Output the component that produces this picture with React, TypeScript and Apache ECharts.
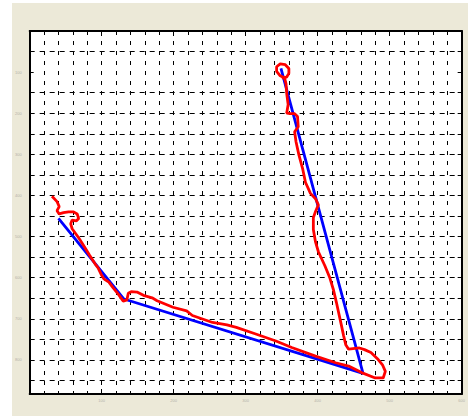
import React, { useEffect, useRef } from "react";
import * as echarts from "echarts";

const X_MIN = 0;
const X_MAX = 600;
const Y_MIN = 0;
const Y_MAX = 883;
const xTickLabels = [100, 200, 300, 400, 500, 600];
const yTickLabels = [100, 200, 300, 400, 500, 600, 700, 800];

const blueX = [40, 131, 463, 349];
const blueY = [456, 652, 833, 91];

const redX = [
  31, 38, 41, 38, 41, 47, 54, 61, 66, 68,
  65, 59, 57, 59, 68, 76, 83, 91, 95, 99,
  103, 110, 116, 123, 130, 135, 137, 141, 149, 158,
  170, 177, 199, 218, 226, 254, 274, 287, 314, 342,
  364, 397, 425, 443, 461, 480, 491, 494, 490, 483,
  474, 465, 458, 443, 439, 436, 433, 429, 426, 422,
  417, 410, 401, 397, 394, 394, 397, 401, 397, 390,
  383, 379, 374, 370, 368, 373, 372, 368, 362, 357,
  359, 357, 356, 354, 348, 343, 343, 348, 355, 360,
  360, 357, 350,
];
const redY = [
  402, 415, 427, 437, 445, 442, 440, 440, 445, 456,
  462, 460, 469, 481, 503, 525, 545, 567, 576, 591,
  603, 611, 625, 640, 657, 654, 638, 634, 635, 643,
  649, 656, 672, 681, 692, 709, 715, 721, 737, 754,
  770, 791, 807, 815, 831, 844, 844, 828, 812, 797,
  782, 775, 771, 774, 763, 741, 716, 684, 660, 630,
  601, 571, 537, 513, 483, 454, 439, 423, 408, 395,
  368, 334, 302, 270, 245, 233, 208, 201, 201, 200,
  179, 152, 128, 114, 109, 98, 87, 80, 82, 91,
  103, 112, 114,
];

const zip = (xs: number[], ys: number[]) => xs.map((x, i) => [x, ys[i]]);

export default function App() {
  const ref = useRef<HTMLDivElement>(null);
  useEffect(() => {
    if (!ref.current) return;
    const chart = echarts.init(ref.current, null, { renderer: "svg" });
    const labelStyle = {
      fontSize: 4,
      color: "#b4b2a8",
      fontFamily: "Liberation Sans",
    };
    const gridDash = { color: "#000", width: 1, type: [4, 6] as number[] };
    // y split line colors: hide the line at value 100 (index 2)
    const yLineColors: string[] = [];
    for (let i = 0; i < 20; i++) yLineColors.push(i === 2 ? "rgba(0,0,0,0)" : "#000");
    const option: any = {
      animation: false,
      backgroundColor: "#ece9d8",
      grid: {
        left: 17,
        top: 28,
        right: 4,
        bottom: 22,
        show: true,
        backgroundColor: "#fff",
        borderWidth: 0,
      },
      xAxis: [
        {
          type: "value",
          position: "bottom",
          min: X_MIN,
          max: X_MAX,
          interval: 100,
          axisLine: { show: true, onZero: false, lineStyle: { color: "#000", width: 2 } },
          axisTick: { show: true, inside: true, length: 5, lineStyle: { color: "#000", width: 1 } },
          minorTick: { show: true, splitNumber: 5, length: 3, lineStyle: { color: "#000", width: 1 } },
          axisLabel: {
            ...labelStyle,
            margin: 4,
            showMaxLabel: true,
            formatter: (v: number) => (xTickLabels.includes(v) ? String(v) : ""),
          },
          splitLine: { show: true, lineStyle: { ...gridDash } },
          minorSplitLine: { show: true, lineStyle: { ...gridDash } },
        },
        {
          type: "value",
          position: "top",
          min: X_MIN,
          max: X_MAX,
          interval: 100,
          axisLine: { show: true, onZero: false, lineStyle: { color: "#000", width: 2 } },
          axisTick: { show: true, inside: true, length: 5, lineStyle: { color: "#000", width: 1 } },
          minorTick: { show: true, splitNumber: 5, length: 3, lineStyle: { color: "#000", width: 1 } },
          axisLabel: { show: false },
          splitLine: { show: false },
        },
      ],
      yAxis: [
        {
          type: "value",
          position: "left",
          inverse: true,
          min: Y_MIN,
          max: Y_MAX,
          interval: 50,
          axisLine: { show: true, onZero: false, lineStyle: { color: "#000", width: 2 } },
          axisTick: { show: true, inside: true, length: 4, lineStyle: { color: "#000", width: 1 } },
          axisLabel: {
            ...labelStyle,
            margin: 8,
            formatter: (v: number) => (yTickLabels.includes(v) ? String(v) : ""),
          },
          splitLine: {
            show: true,
            lineStyle: { color: yLineColors, width: 1, type: [5, 5] },
          },
        },
        {
          type: "value",
          position: "right",
          inverse: true,
          min: Y_MIN,
          max: Y_MAX,
          interval: 50,
          axisLine: { show: true, onZero: false, lineStyle: { color: "#000", width: 2 } },
          axisTick: { show: true, inside: true, length: 4, lineStyle: { color: "#000", width: 1 } },
          axisLabel: { show: false },
          splitLine: { show: false },
        },
      ],
      series: [
        {
          type: "line",
          xAxisIndex: 0,
          yAxisIndex: 0,
          data: zip(blueX, blueY),
          showSymbol: false,
          symbol: "none",
          lineStyle: { color: "#0000ff", width: 2.8 },
          z: 3,
        },
        {
          type: "line",
          xAxisIndex: 0,
          yAxisIndex: 0,
          data: zip(redX, redY),
          showSymbol: false,
          symbol: "none",
          lineStyle: { color: "#ff0000", width: 2.8 },
          z: 4,
        },
      ],
    };
    chart.setOption(option);
    return () => chart.dispose();
  }, []);
  return (
    <div
      style={{
        position: "fixed",
        left: 0,
        top: 0,
        width: 468,
        height: 416,
        background: "#fff",
      }}
    >
      <div
        ref={ref}
        style={{ position: "absolute", left: 12, top: 3, width: 456, height: 413 }}
      />
    </div>
  );
}
